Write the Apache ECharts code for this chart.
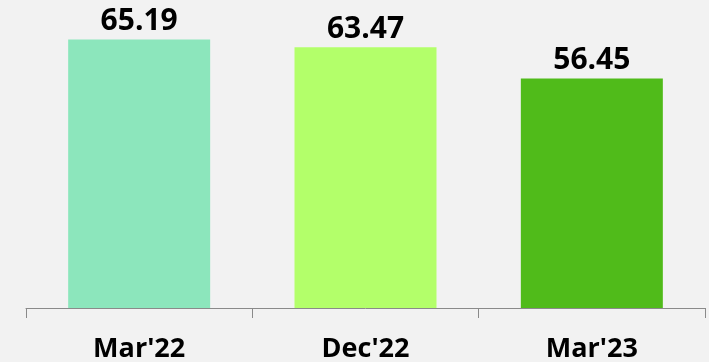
<!DOCTYPE html>
<html>
<head>
<meta charset="utf-8">
<script src="https://cdn.jsdelivr.net/npm/echarts@6/dist/echarts.min.js"></script>
<style>
  html, body { margin: 0; padding: 0; background: #F2F2F2; }
  #chart { width: 709px; height: 362px; }
</style>
</head>
<body>
<div id="chart"></div>
<script>
// Quarter-end values shown as bars
const categories = ["Mar'22", "Dec'22", "Mar'23"];
const values = [65.19, 63.47, 56.45];
const barColors = ['#8CE6BC', '#B3FF6A', '#50BB1A'];

const chart = echarts.init(document.getElementById('chart'));

chart.setOption({
  backgroundColor: '#F2F2F2',
  animation: false,
  grid: { left: 26, right: 4, top: 18, bottom: 54, containLabel: false, outerBoundsMode: 'none' },
  xAxis: {
    type: 'category',
    data: categories,
    axisLine: { show: true, lineStyle: { color: '#8A8A8A', width: 1 } },
    axisTick: { show: true, length: 10, alignWithLabel: false, lineStyle: { color: '#8A8A8A', width: 1 } },
    axisLabel: {
      margin: 28,
      fontFamily: 'Open Sans',
      fontWeight: 'bold',
      fontSize: 27,
      color: '#000000'
    }
  },
  yAxis: {
    type: 'value',
    min: 5,
    max: 70,
    show: false,
    splitLine: { show: false }
  },
  series: [{
    type: 'bar',
    barWidth: 142,
    data: values.map((v, i) => ({ value: v, itemStyle: { color: barColors[i] } })),
    label: {
      show: true,
      position: 'top',
      distance: 3,
      fontFamily: 'Open Sans',
      fontWeight: 'bold',
      fontSize: 30,
      color: '#000000',
      formatter: p => p.value.toFixed(2)
    }
  }]
});
</script>
</body>
</html>
